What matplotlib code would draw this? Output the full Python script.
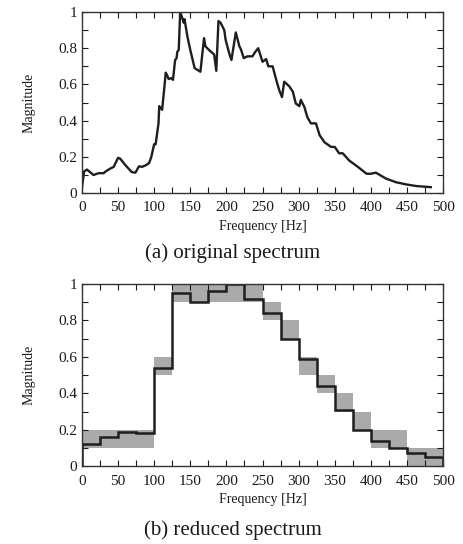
import numpy as np
import matplotlib.pyplot as plt

plt.rcParams['font.family'] = ['Liberation Serif', 'DejaVu Serif']

# (a) original spectrum
freq = [0, 3, 7, 16, 23, 30, 33, 39, 44, 50, 53, 60, 69, 74, 79, 83, 88, 93, 96,
        100, 102, 106, 107, 111, 114, 116, 118, 120, 124, 126, 129, 131, 132, 134,
        136, 139, 141, 142, 146, 150, 156, 164, 169, 171, 176, 183, 186, 189, 192,
        197, 199, 204, 207, 213, 218, 220, 224, 229, 236, 240, 244, 250, 255, 258,
        264, 269, 273, 277, 280, 287, 292, 296, 301, 303, 308, 312, 317, 324, 329,
        336, 345, 350, 356, 361, 370, 382, 394, 400, 407, 421, 435, 449, 463, 483]
mag = [0.03, 0.12, 0.13, 0.10, 0.11, 0.11, 0.12, 0.135, 0.145, 0.195, 0.19, 0.155,
       0.116, 0.113, 0.148, 0.145, 0.153, 0.166, 0.20, 0.27, 0.27, 0.385, 0.48,
       0.46, 0.58, 0.665, 0.65, 0.63, 0.635, 0.625, 0.735, 0.745, 0.78, 0.79, 1.0,
       0.965, 0.94, 0.96, 0.865, 0.79, 0.69, 0.67, 0.855, 0.81, 0.79, 0.765, 0.675,
       0.95, 0.94, 0.90, 0.845, 0.77, 0.735, 0.887, 0.81, 0.795, 0.745, 0.755,
       0.755, 0.78, 0.80, 0.725, 0.74, 0.70, 0.70, 0.625, 0.57, 0.53, 0.615, 0.59,
       0.56, 0.495, 0.48, 0.515, 0.475, 0.42, 0.385, 0.385, 0.32, 0.28, 0.255,
       0.255, 0.22, 0.22, 0.18, 0.145, 0.107, 0.107, 0.113, 0.08, 0.06, 0.048,
       0.039, 0.033]

# (b) reduced spectrum: 25 Hz bins
bin_edges = np.arange(0, 525, 25)
reduced = [0.12, 0.16, 0.19, 0.18, 0.54, 0.95, 0.90, 0.96, 1.0, 0.92, 0.84, 0.70,
           0.59, 0.44, 0.31, 0.20, 0.14, 0.10, 0.07, 0.05]
band_low = [0.1, 0.1, 0.1, 0.1, 0.5, 0.9, 0.9, 0.9, 0.9, 0.9, 0.8, 0.7,
            0.5, 0.4, 0.3, 0.2, 0.1, 0.1, 0.0, 0.0]

fig = plt.figure(figsize=(4.63, 5.44), dpi=100)
ax1 = fig.add_axes([0.177, 0.645, 0.780, 0.333])
ax2 = fig.add_axes([0.177, 0.143, 0.780, 0.335])


def style(ax):
    ax.set_xlim(0, 500)
    ax.set_ylim(0, 1)
    ax.set_xticks(np.arange(0, 501, 50))
    ax.set_xticks(np.arange(0, 501, 25), minor=True)
    ax.set_yticks([0, 0.2, 0.4, 0.6, 0.8, 1])
    ax.set_yticklabels(['0', '0.2', '0.4', '0.6', '0.8', '1'])
    ax.set_yticks(np.arange(0, 1.01, 0.1), minor=True)
    ax.tick_params(which='both', direction='in', top=True, right=True,
                   length=4, width=0.8, labelsize=11, colors='#1a1a1a')
    ax.tick_params(axis='x', pad=6)
    for s in ax.spines.values():
        s.set_linewidth(1.0)
        s.set_color('#333333')
    ax.set_xlabel('Frequency [Hz]', fontsize=10, color='#1a1a1a', labelpad=4)
    ax.set_ylabel('Magnitude', fontsize=10, color='#1a1a1a', labelpad=16)


ax1.plot(freq, mag, color='#1e1e1e', lw=1.7)
style(ax1)

centers = bin_edges[:-1] + 12.5
ax2.bar(centers, 0.1, width=25, bottom=band_low, color='#aaaaaa',
        linewidth=0, zorder=1)
ax2.stairs(reduced, bin_edges, color='#1e1e1e', lw=1.8, zorder=2)
style(ax2)

fig.text(0.503, 0.535, '(a) original spectrum', ha='center', va='center',
         fontsize=15, color='#1a1a1a')
fig.text(0.503, 0.026, '(b) reduced spectrum', ha='center', va='center',
         fontsize=15, color='#1a1a1a')

fig.savefig('out.png', dpi=100)
